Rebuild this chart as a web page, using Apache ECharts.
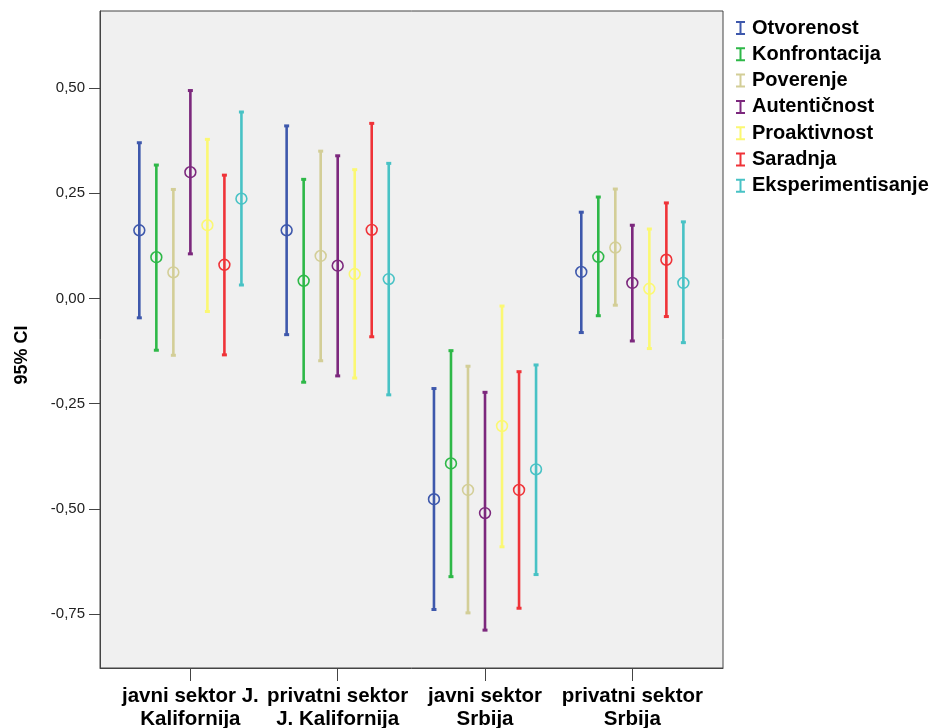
<!DOCTYPE html>
<html>
<head>
<meta charset="utf-8">
<script src="https://cdn.jsdelivr.net/npm/echarts@6/dist/echarts.min.js"></script>
<style>html,body{margin:0;padding:0;background:#fff;}#c{width:935px;height:728px;}</style>
</head>
<body>
<div id="c"></div>
<script>
const categories = ['javni sektor J.\nKalifornija', 'privatni sektor\nJ. Kalifornija', 'javni sektor\nSrbija', 'privatni sektor\nSrbija'];
const seriesNames = ['Otvorenost', 'Konfrontacija', 'Poverenje', 'Autentičnost', 'Proaktivnost', 'Saradnja', 'Eksperimentisanje'];
const colors = ['#3E58AC', '#2EB848', '#D3CE97', '#7C287D', '#FBF873', '#EF3338', '#48C2C5'];
const yTicks = [-0.75, -0.5, -0.25, 0, 0.25, 0.5];

// [mean, low, high] per category
const otvorenost = [[0.162, -0.046, 0.370], [0.162, -0.086, 0.410], [-0.477, -0.739, -0.214], [0.063, -0.081, 0.205]];
const konfrontacija = [[0.098, -0.123, 0.317], [0.042, -0.199, 0.283], [-0.392, -0.661, -0.124], [0.099, -0.041, 0.241]];
const poverenje = [[0.062, -0.135, 0.259], [0.101, -0.148, 0.350], [-0.455, -0.747, -0.161], [0.121, -0.016, 0.260]];
const autenticnost = [[0.300, 0.106, 0.494], [0.078, -0.184, 0.339], [-0.510, -0.788, -0.223], [0.037, -0.101, 0.174]];
const proaktivnost = [[0.174, -0.031, 0.378], [0.058, -0.189, 0.306], [-0.303, -0.590, -0.018], [0.023, -0.119, 0.165]];
const saradnja = [[0.080, -0.134, 0.293], [0.163, -0.091, 0.416], [-0.455, -0.736, -0.174], [0.092, -0.043, 0.227]];
const eksperimentisanje = [[0.237, 0.032, 0.443], [0.046, -0.229, 0.321], [-0.406, -0.656, -0.158], [0.037, -0.105, 0.182]];
const allSeries = [otvorenost, konfrontacija, poverenje, autenticnost, proaktivnost, saradnja, eksperimentisanje];

const step = 0.1155;
const FONT = '"Liberation Sans", Arial, sans-serif';
const iconPath = 'path://M0,0H9V2H5.5V12H9V14H0V12H3.5V2H0Z';

function renderItem(params, api) {
  const x = api.value(0);
  const mean = api.value(1), low = api.value(2), high = api.value(3);
  const pt = api.coord([x, high]);
  const pb = api.coord([x, low]);
  const pm = api.coord([x, mean]);
  const color = api.visual('color');
  return {
    type: 'group',
    children: [
      { type: 'line', shape: { x1: pt[0], y1: pt[1], x2: pb[0], y2: pb[1] }, style: { stroke: color, lineWidth: 2.6 } },
      { type: 'rect', shape: { x: pt[0] - 2.5, y: pt[1] - 1.5, width: 5, height: 3 }, style: { fill: color } },
      { type: 'rect', shape: { x: pb[0] - 2.5, y: pb[1] - 1.5, width: 5, height: 3 }, style: { fill: color } },
      { type: 'circle', shape: { cx: pm[0], cy: pm[1], r: 5.4 }, style: { fill: 'none', stroke: color, lineWidth: 1.6 } }
    ]
  };
}

const series = allSeries.map((arr, si) => ({
  name: seriesNames[si],
  type: 'custom',
  renderItem: renderItem,
  itemStyle: { color: colors[si] },
  data: arr.map((d, ci) => [ci + 1 + (si - 3) * step, d[0], d[1], d[2]]),
  clip: false,
  z: 5
}));

const chart = echarts.init(document.getElementById('c'));
chart.setOption({
  animation: false,
  backgroundColor: '#ffffff',
  grid: { left: 100, right: 212, top: 11, bottom: 60, outerBoundsMode: 'none', containLabel: false, show: true, backgroundColor: '#f0f0f0', borderColor: '#444', borderWidth: 1 },
  legend: {
    orient: 'vertical',
    left: 731,
    top: 13,
    itemWidth: 9,
    itemHeight: 14,
    itemGap: 6.3,
    data: seriesNames.map((n) => ({ name: n, icon: iconPath })),
    textStyle: { fontFamily: FONT, fontWeight: 'bold', fontSize: 20, color: '#000', lineHeight: 20, padding: [0, 0, 0, 2] }
  },
  xAxis: {
    type: 'value',
    min: 1 - 90.3 / 147.2,
    max: 4 + 90.6 / 147.2,
    splitLine: { show: false },
    axisLine: { show: true, onZero: false, lineStyle: { color: '#444', width: 1 } },
    axisTick: { show: true, length: 13, lineStyle: { color: '#444' }, customValues: [1, 2, 3, 4] },
    axisLabel: {
      customValues: [1, 2, 3, 4],
      formatter: (v) => categories[Math.round(v) - 1] || '',
      fontFamily: FONT, fontWeight: 'bold', fontSize: 20.5, color: '#000', lineHeight: 23, margin: 17
    }
  },
  yAxis: {
    type: 'value',
    min: -0.878,
    max: 0.683,
    splitLine: { show: false },
    axisLine: { show: true, onZero: false, lineStyle: { color: '#444', width: 1 } },
    axisTick: { show: true, length: 11, lineStyle: { color: '#444' }, customValues: yTicks },
    axisLabel: {
      customValues: yTicks,
      formatter: (v) => v.toFixed(2).replace('.', ','),
      fontFamily: FONT, fontSize: 15, color: '#222', margin: 15
    }
  },
  graphic: [{
    type: 'text', x: 22, y: 355, rotation: Math.PI / 2,
    style: { text: '95% CI', fontFamily: FONT, fontWeight: 'bold', fontSize: 18, fill: '#000', align: 'center', verticalAlign: 'middle' }
  }],
  series: series
});
</script>
</body>
</html>
